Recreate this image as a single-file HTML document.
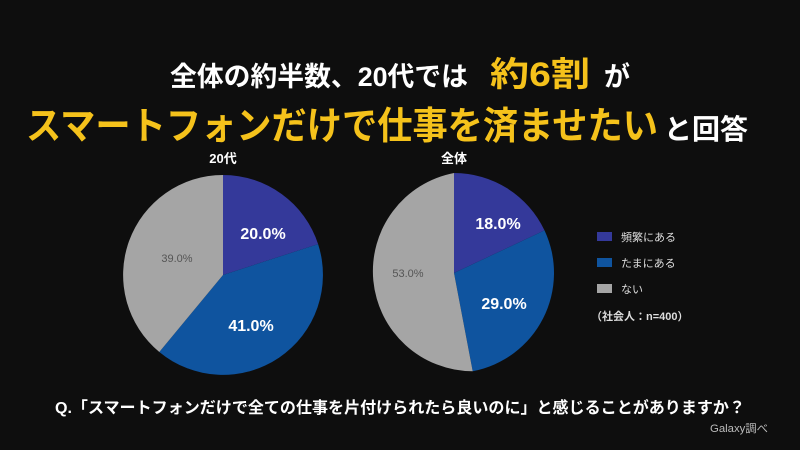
<!DOCTYPE html>
<html><head><meta charset="utf-8"><style>
html,body{margin:0;padding:0;background:#0e0e0e;}
svg{display:block;}
text{font-family:"Liberation Sans","Noto Sans CJK JP",sans-serif;}
</style></head><body>
<svg width="800" height="450" viewBox="0 0 800 450" xmlns="http://www.w3.org/2000/svg">
<rect width="800" height="450" fill="#0e0e0e"/>
<!-- title -->
<text y="86" font-weight="bold" font-size="27" fill="#ffffff">
<tspan x="170" textLength="298" lengthAdjust="spacingAndGlyphs">全体の約半数、20代では</tspan>
<tspan x="490" font-size="34" fill="#f5c21b" textLength="100" lengthAdjust="spacingAndGlyphs">約6割</tspan>
<tspan x="604" textLength="26" lengthAdjust="spacingAndGlyphs">が</tspan>
</text>
<text y="139" font-weight="bold" font-size="38" fill="#f5c21b">
<tspan x="26" textLength="632" lengthAdjust="spacingAndGlyphs">スマートフォンだけで仕事を済ませたい</tspan>
<tspan x="664" font-size="28" fill="#ffffff" textLength="84" lengthAdjust="spacingAndGlyphs">と回答</tspan>
</text>
<!-- subtitles -->
<text x="223" y="163" font-weight="bold" font-size="13" fill="#fff" text-anchor="middle">20代</text>
<text x="454" y="163" font-weight="bold" font-size="13" fill="#fff" text-anchor="middle">全体</text>
<!-- pie 1 -->
<path d="M223,275 L223,175 A100,100 0 0 1 318.1,244.1 Z" fill="#34399a"/>
<path d="M223,275 L318.1,244.1 A100,100 0 0 1 159.3,352.0 Z" fill="#0f549f"/>
<path d="M223,275 L159.3,352.0 A100,100 0 0 1 223,175 Z" fill="#a5a5a5"/>
<text x="263" y="239" font-weight="bold" font-size="16" fill="#fff" text-anchor="middle">20.0%</text>
<text x="251" y="331" font-weight="bold" font-size="16" fill="#fff" text-anchor="middle">41.0%</text>
<text x="177" y="262" font-size="11" fill="#555" text-anchor="middle">39.0%</text>
<!-- pie 2 -->
<path d="M454,273 L454,173 A100,100 0 0 1 544.5,230.4 Z" fill="#34399a"/>
<path d="M454,273 L544.5,230.4 A100,100 0 0 1 472.7,371.2 Z" fill="#0f549f"/>
<path d="M454,273 L472.7,371.2 A100,100 0 0 1 454,173 Z" fill="#a5a5a5"/>
<text x="498" y="229" font-weight="bold" font-size="16" fill="#fff" text-anchor="middle">18.0%</text>
<text x="504" y="309" font-weight="bold" font-size="16" fill="#fff" text-anchor="middle">29.0%</text>
<text x="408" y="277" font-size="11" fill="#555" text-anchor="middle">53.0%</text>
<!-- legend -->
<rect x="597" y="232" width="15" height="9" fill="#34399a"/>
<text x="621" y="241" font-size="11" fill="#ddd">頻繁にある</text>
<rect x="597" y="258" width="15" height="9" fill="#0f549f"/>
<text x="621" y="267" font-size="11" fill="#ddd">たまにある</text>
<rect x="597" y="284" width="15" height="9" fill="#a5a5a5"/>
<text x="621" y="293" font-size="11" fill="#ddd">ない</text>
<text x="591" y="320" font-weight="bold" font-size="11" fill="#ddd">（社会人：n=400）</text>
<!-- question -->
<text x="55" y="413" font-weight="bold" font-size="16" fill="#fff" textLength="690" lengthAdjust="spacingAndGlyphs">Q.「スマートフォンだけで全ての仕事を片付けられたら良いのに」と感じることがありますか？</text>
<text x="710" y="432" font-size="11" fill="#bbb" textLength="58" lengthAdjust="spacingAndGlyphs">Galaxy調べ</text>
</svg>
</body></html>
